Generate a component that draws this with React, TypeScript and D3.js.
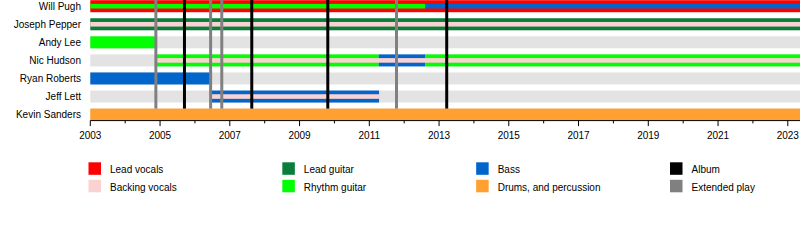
import React from "react";
import * as d3 from "d3";

const members = ["Will Pugh", "Joseph Pepper", "Andy Lee", "Nic Hudson", "Ryan Roberts", "Jeff Lett", "Kevin Sanders"];
const roles = ["Lead vocals", "Backing vocals", "Lead guitar", "Rhythm guitar", "Bass", "Drums, and percussion"];
const roleColors = ["#ff0000", "#fbd2d2", "#0a7d3a", "#00ff00", "#0066cc", "#ffa030"];
const releaseTypes = ["Album", "Extended play"];
const releaseColors = ["#000000", "#808080"];

const startYear = 2003;
const endYear = 2023.35;

// main bars: [member, role, from, till]
const mainBars: [string, string, number, number][] = [
  ["Will Pugh", "Lead vocals", 2003, endYear],
  ["Joseph Pepper", "Lead guitar", 2003, endYear],
  ["Andy Lee", "Rhythm guitar", 2003, 2004.87],
  ["Nic Hudson", "Rhythm guitar", 2004.87, 2011.27],
  ["Nic Hudson", "Bass", 2011.27, 2012.61],
  ["Nic Hudson", "Rhythm guitar", 2012.61, endYear],
  ["Ryan Roberts", "Bass", 2003, 2006.43],
  ["Jeff Lett", "Bass", 2006.43, 2011.28],
  ["Kevin Sanders", "Drums, and percussion", 2003, endYear],
];

// secondary (thin) bars
const innerBars: [string, string, number, number][] = [
  ["Will Pugh", "Rhythm guitar", 2003, 2012.61],
  ["Will Pugh", "Bass", 2012.61, endYear],
  ["Joseph Pepper", "Backing vocals", 2003, endYear],
  ["Nic Hudson", "Backing vocals", 2004.87, endYear],
  ["Jeff Lett", "Backing vocals", 2006.43, 2011.28],
];

const albums = [2005.7, 2007.63, 2009.81, 2013.22];
const eps = [2004.88, 2006.45, 2006.77, 2011.78];

const majorTicks = [2003, 2005, 2007, 2009, 2011, 2013, 2015, 2017, 2019, 2021, 2023];
const minorTicks = [2004, 2006, 2008, 2010, 2012, 2014, 2016, 2018, 2020, 2022];

const FONT = "'Liberation Sans', Arial, Helvetica, sans-serif";

export default function App() {
  const W = 800, H = 240;
  const x = d3.scaleLinear().domain([startYear, endYear]).range([90.3, 800]);
  const y = d3.scalePoint<string>().domain(members).range([6.2, 114.6]);
  const color = d3.scaleOrdinal<string, string>().domain(roles).range(roleColors);
  const barH = 12;
  const innerH = 4.6;
  const axisY = 120.6;
  const lineBottom = (y("Kevin Sanders") as number) - barH / 2;

  const legendCols = [
    [roles[0], roles[1]],
    [roles[2], roles[3]],
    [roles[4], roles[5]],
    releaseTypes,
  ];
  const legendColColors = [
    [roleColors[0], roleColors[1]],
    [roleColors[2], roleColors[3]],
    [roleColors[4], roleColors[5]],
    releaseColors,
  ];
  const legendX = d3.scaleLinear().domain([0, 3]).range([88.5, 670]);

  return (
    <svg width={W} height={H} style={{ position: "absolute", left: 0, top: 0, background: "#fff" }} fontFamily={FONT}>
      {/* background bars */}
      {members.map((m) => (
        <rect key={"bg" + m} x={x(startYear)} width={x(endYear) - x(startYear)} y={(y(m) as number) - barH / 2} height={barH} fill="#e3e3e3" />
      ))}
      {mainBars.map(([m, r, a, b], i) => (
        <rect key={"mb" + i} x={x(a)} width={x(b) - x(a)} y={(y(m) as number) - barH / 2} height={barH} fill={color(r)} />
      ))}
      {innerBars.map(([m, r, a, b], i) => (
        <rect key={"ib" + i} x={x(a)} width={x(b) - x(a)} y={(y(m) as number) - innerH / 2} height={innerH} fill={color(r)} />
      ))}
      {eps.map((d, i) => (
        <line key={"ep" + i} x1={x(d)} x2={x(d)} y1={0} y2={lineBottom} stroke={releaseColors[1]} strokeWidth={3} />
      ))}
      {albums.map((d, i) => (
        <line key={"al" + i} x1={x(d)} x2={x(d)} y1={0} y2={lineBottom} stroke={releaseColors[0]} strokeWidth={3} />
      ))}
      {/* member labels */}
      {members.map((m) => (
        <text key={"lb" + m} x={81} y={(y(m) as number) + 3.8} textAnchor="end" fontSize={10} fill="#000">{m}</text>
      ))}
      {/* axis */}
      <line x1={x(startYear)} x2={x(endYear)} y1={axisY} y2={axisY} stroke="#000" strokeWidth={1} />
      {majorTicks.map((t) => (
        <g key={"mt" + t}>
          <line x1={x(t)} x2={x(t)} y1={axisY} y2={axisY + 5.5} stroke="#000" strokeWidth={1} />
          <text x={x(t)} y={axisY + 18.5} textAnchor="middle" fontSize={10} fill="#000">{t}</text>
        </g>
      ))}
      {minorTicks.map((t) => (
        <line key={"nt" + t} x1={x(t)} x2={x(t)} y1={axisY} y2={axisY + 2.8} stroke="#000" strokeWidth={1} />
      ))}
      {/* legend */}
      {legendCols.map((col, ci) =>
        col.map((label, ri) => (
          <g key={"lg" + ci + "-" + ri} transform={`translate(${legendX(ci)},${162.3 + ri * 17.5})`}>
            <rect x={0} y={0} width={12.5} height={12.5} fill={legendColColors[ci][ri]} />
            <text x={21.5} y={11} fontSize={10} fill="#000">{label}</text>
          </g>
        ))
      )}
    </svg>
  );
}
